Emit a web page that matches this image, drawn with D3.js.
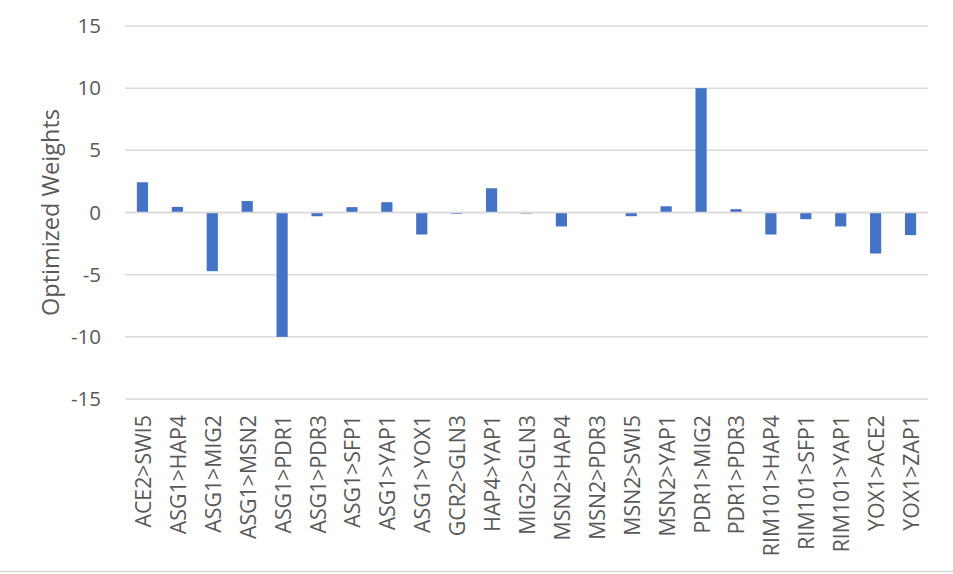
<!DOCTYPE html>
<html>
<head>
<meta charset="utf-8">
<script src="https://cdn.jsdelivr.net/npm/d3@7"></script>
<style>
  html, body { margin: 0; padding: 0; background: #fff; }
  svg { display: block; }
</style>
</head>
<body>
<svg id="chart" width="953" height="574"></svg>
<script>
const categories = ["ACE2>SWI5","ASG1>HAP4","ASG1>MIG2","ASG1>MSN2","ASG1>PDR1","ASG1>PDR3","ASG1>SFP1","ASG1>YAP1","ASG1>YOX1","GCR2>GLN3","HAP4>YAP1","MIG2>GLN3","MSN2>HAP4","MSN2>PDR3","MSN2>SWI5","MSN2>YAP1","PDR1>MIG2","PDR1>PDR3","RIM101>HAP4","RIM101>SFP1","RIM101>YAP1","YOX1>ACE2","YOX1>ZAP1"];
const weights = [2.43, 0.45, -4.72, 0.92, -10.0, -0.3, 0.43, 0.83, -1.77, -0.1, 1.95, -0.08, -1.12, 0, -0.3, 0.5, 10.0, 0.27, -1.77, -0.54, -1.12, -3.3, -1.82];
const yTicks = [-15, -10, -5, 0, 5, 10, 15];
const yTitle = "Optimized Weights";

(function () {
const svg = d3.select("#chart");
const pLeft = 125, pRight = 928, pTop = 26, pBottom = 399;
const font = "'Open Sans', 'Liberation Sans', sans-serif";
const textColor = "#595959";
const gridColor = "#d9d9d9";

const x = d3.scaleBand().domain(categories).range([pLeft, pRight]).paddingInner(0.68).paddingOuter(0.34);
const y = d3.scaleLinear().domain([-15, 15]).range([pBottom, pTop]);

// gridlines
svg.append("g").selectAll("line").data(yTicks).join("line")
  .attr("x1", pLeft).attr("x2", pRight)
  .attr("y1", d => y(d)).attr("y2", d => y(d))
  .attr("stroke", gridColor).attr("stroke-width", 1.5);

// y axis labels
const yAxis = d3.axisLeft(y).tickValues(yTicks).tickFormat(d => String(d)).tickSize(0).tickPadding(0);
const ya = svg.append("g").attr("transform", `translate(${pLeft - 24},0)`).call(yAxis);
ya.select(".domain").remove();
ya.selectAll("text").attr("font-family", font).attr("font-size", 20.5).attr("fill", textColor);

// bars
svg.append("g").selectAll("rect").data(categories).join("rect")
  .attr("x", d => x(d))
  .attr("width", x.bandwidth())
  .attr("y", (d, i) => y(Math.max(0, weights[i])))
  .attr("height", (d, i) => Math.abs(y(weights[i]) - y(0)))
  .attr("fill", "#4472C4");

// zero line over bars
svg.append("line").attr("x1", pLeft).attr("x2", pRight).attr("y1", y(0)).attr("y2", y(0))
  .attr("stroke", gridColor).attr("stroke-width", 1.5);

// category labels
const xAxis = d3.axisBottom(x).tickSize(0).tickPadding(0);
const xa = svg.append("g").attr("transform", `translate(0,${pBottom})`).call(xAxis);
xa.select(".domain").remove();
xa.selectAll("text")
  .attr("font-family", font).attr("font-size", 21.3).attr("fill", textColor)
  .attr("text-anchor", "end")
  .attr("dy", null)
  .attr("y", 0)
  .attr("transform", "translate(0,16) rotate(-90)")
  .attr("dominant-baseline", "central");

// y title
svg.append("text")
  .attr("transform", `translate(50,${(pTop + pBottom) / 2}) rotate(-90)`)
  .attr("text-anchor", "middle").attr("dominant-baseline", "central")
  .attr("font-family", font).attr("font-size", 23.5).attr("fill", textColor)
  .text(yTitle);

// outer border bottom
svg.append("line").attr("x1", 0).attr("x2", 953).attr("y1", 571.5).attr("y2", 571.5)
  .attr("stroke", gridColor).attr("stroke-width", 1.5);
})();
</script>
</body>
</html>
